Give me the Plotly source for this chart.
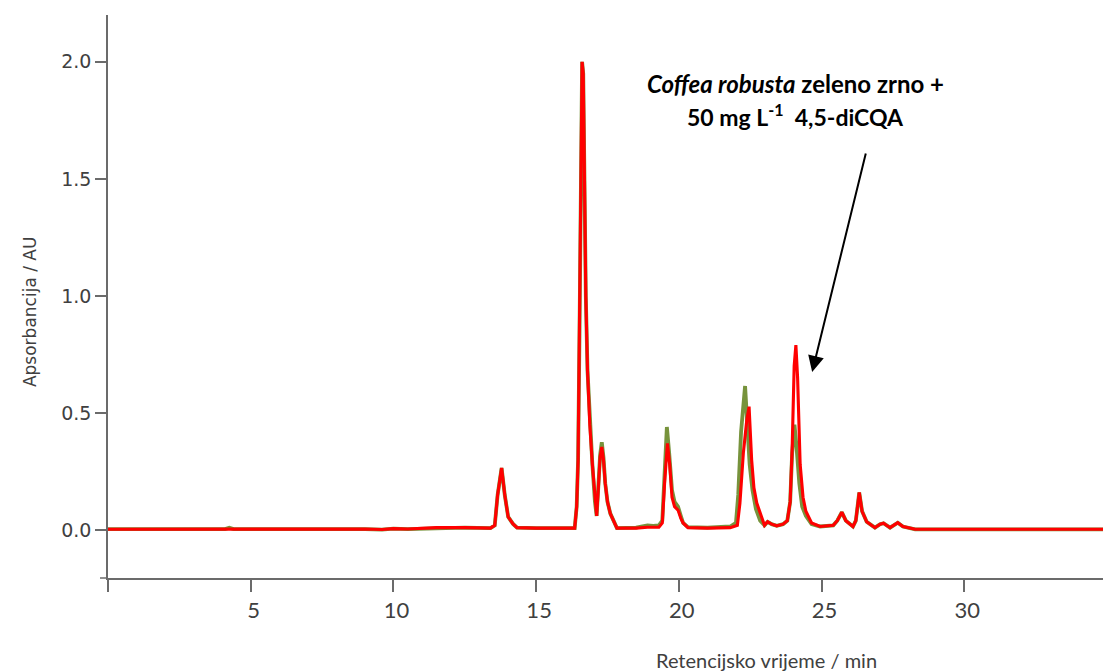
import plotly.graph_objects as go

# Retention time (min) and absorbance (AU)
t_red = [0.0, 4.2, 7.8, 8.5, 9.0, 9.6, 10.0, 10.5, 11.0, 11.5, 12.5, 13.4,
         13.55, 13.65, 13.79, 13.9, 14.02, 14.19, 14.33, 15.0, 16.35,
         16.42, 16.47, 16.52, 16.57, 16.61, 16.65, 16.69, 16.74, 16.80, 16.88,
         16.97, 17.06, 17.12, 17.18, 17.24, 17.30, 17.36, 17.42, 17.50, 17.60,
         17.70, 17.83, 18.5, 18.9, 19.3, 19.42, 19.50, 19.60, 19.68, 19.76,
         19.85, 19.97, 20.07, 20.15, 20.32, 21.0, 21.8, 22.05, 22.14, 22.26,
         22.38, 22.46, 22.55, 22.63, 22.73, 22.90, 23.0, 23.11, 23.25, 23.43,
         23.65, 23.80, 23.90, 23.97, 24.04, 24.10, 24.16, 24.25, 24.35, 24.45,
         24.65, 24.95, 25.41, 25.55, 25.71, 25.85, 26.10, 26.20, 26.32, 26.42,
         26.58, 26.75, 26.87, 27.05, 27.17, 27.40, 27.55, 27.67, 27.85, 28.28,
         35.0]
a_red = [0.003, 0.003, 0.004, 0.006, 0.004, 0.002, 0.006, 0.004, 0.006, 0.010, 0.010, 0.008,
         0.02, 0.15, 0.265, 0.15, 0.056, 0.026, 0.010, 0.008, 0.008,
         0.10, 0.30, 0.85, 1.60, 2.00, 1.95, 1.50, 1.00, 0.68, 0.45,
         0.28, 0.12, 0.06, 0.18, 0.31, 0.355, 0.30, 0.20, 0.12, 0.07,
         0.04, 0.008, 0.008, 0.012, 0.012, 0.03, 0.20, 0.37, 0.28, 0.14,
         0.10, 0.085, 0.05, 0.03, 0.010, 0.008, 0.010, 0.02, 0.115, 0.33,
         0.47, 0.527, 0.30, 0.18, 0.115, 0.05, 0.02, 0.035, 0.025, 0.018,
         0.025, 0.04, 0.12, 0.35, 0.70, 0.79, 0.65, 0.28, 0.14, 0.08,
         0.03, 0.015, 0.02, 0.04, 0.076, 0.04, 0.015, 0.04, 0.16, 0.08,
         0.035, 0.02, 0.010, 0.025, 0.029, 0.010, 0.02, 0.031, 0.015, 0.003,
         0.003]

t_green = [0.0, 4.1, 4.25, 4.4, 7.8, 8.5, 9.0, 9.6, 10.0, 10.5, 11.0, 11.5, 12.5, 13.4,
           13.55, 13.65, 13.79, 13.9, 14.02, 14.19, 14.33, 15.0, 16.35,
           16.42, 16.47, 16.52, 16.57, 16.61, 16.65, 16.69, 16.74, 16.80, 16.88,
           16.97, 17.06, 17.12, 17.18, 17.24, 17.30, 17.36, 17.42, 17.50, 17.60,
           17.70, 17.83, 18.5, 18.7, 18.9, 19.1, 19.3, 19.42, 19.50, 19.58, 19.66,
           19.76, 19.85, 19.97, 20.07, 20.15, 20.32, 20.8, 21.0, 21.8, 22.0, 22.08,
           22.18, 22.32, 22.40, 22.48, 22.58, 22.70, 22.85, 23.0, 23.11, 23.25,
           23.43, 23.65, 23.80, 23.90, 23.97, 24.05, 24.12, 24.22, 24.32, 24.45,
           24.65, 24.95, 25.41, 25.55, 25.71, 25.85, 26.10, 26.20, 26.32, 26.42,
           26.58, 26.75, 26.87, 27.05, 27.17, 27.40, 27.55, 27.67, 27.85, 28.28,
           35.0]
a_green = [0.004, 0.004, 0.010, 0.004, 0.004, 0.006, 0.004, 0.002, 0.006, 0.004, 0.006, 0.010, 0.010, 0.008,
           0.02, 0.15, 0.265, 0.15, 0.056, 0.026, 0.010, 0.008, 0.008,
           0.10, 0.30, 0.85, 1.60, 2.00, 1.95, 1.50, 1.00, 0.68, 0.45,
           0.28, 0.12, 0.06, 0.19, 0.32, 0.375, 0.31, 0.20, 0.12, 0.07,
           0.04, 0.008, 0.010, 0.015, 0.020, 0.018, 0.020, 0.04, 0.25, 0.44, 0.33,
           0.17, 0.12, 0.10, 0.06, 0.03, 0.012, 0.012, 0.010, 0.015, 0.03, 0.15,
           0.42, 0.615, 0.42, 0.28, 0.17, 0.09, 0.04, 0.02, 0.035, 0.025,
           0.018, 0.025, 0.04, 0.12, 0.33, 0.45, 0.36, 0.20, 0.10, 0.06,
           0.025, 0.015, 0.02, 0.04, 0.076, 0.04, 0.015, 0.04, 0.16, 0.08,
           0.035, 0.02, 0.010, 0.025, 0.029, 0.010, 0.02, 0.031, 0.015, 0.003,
           0.003]

x_ticks = [5, 10, 15, 20, 25, 30]
x_end_ticks = [0, 35]
y_ticks = [0.0, 0.5, 1.0, 1.5, 2.0]

axis_col = "#6b6b6b"
label_col = "#404040"

fig = go.Figure()
fig.add_trace(go.Scatter(x=t_green, y=a_green, mode="lines",
                         line=dict(color="#77933C", width=3.8), hoverinfo="skip"))
fig.add_trace(go.Scatter(x=t_red, y=a_red, mode="lines",
                         line=dict(color="#FF0000", width=3.1), hoverinfo="skip"))

# the page body adds 8px on the left and top, so the figure is 8px smaller
fig.update_layout(
    width=1103, height=664,
    margin=dict(l=100, r=4, t=7, b=94),
    paper_bgcolor="white", plot_bgcolor="white",
    showlegend=False,
    xaxis=dict(range=[0, 35], tickvals=x_ticks,
               showgrid=False, zeroline=False, showline=True,
               linecolor=axis_col, linewidth=1.5,
               ticks="outside", ticklen=12, tickwidth=1.5, tickcolor=axis_col,
               ticklabelshift=3,
               minor=dict(tickvals=x_end_ticks, ticks="outside", ticklen=12,
                          tickwidth=1.5, tickcolor=axis_col, showgrid=False),
               tickfont=dict(family="Lato", size=22, color=label_col)),
    yaxis=dict(range=[-0.205, 2.2], tickvals=y_ticks, tickformat=".1f",
               showgrid=False, zeroline=False, showline=True,
               linecolor=axis_col, linewidth=1.5,
               ticks="outside", ticklen=11, tickwidth=1.5, tickcolor=axis_col,
               tickfont=dict(family="DejaVu Sans", size=19, color=label_col)),
)

# axis cross at the lower left corner
fig.add_shape(type="line", xref="paper", yref="paper", x0=0, x1=0, y0=0, y1=-0.021,
              line=dict(color=axis_col, width=1.5))
fig.add_shape(type="line", xref="paper", yref="paper", x0=-0.008, x1=0, y0=0, y1=0,
              line=dict(color=axis_col, width=1.5))

# axis titles
fig.add_annotation(text="Apsorbancija / AU", xref="paper", yref="paper",
                   x=-0.078, y=0.4725, textangle=-90, showarrow=False,
                   xanchor="center", yanchor="middle",
                   font=dict(family="DejaVu Sans", size=17, color=label_col))
fig.add_annotation(text="Retencijsko vrijeme / min", xref="paper", yref="paper",
                   x=0.659, y=-0.1456, showarrow=False,
                   xanchor="center", yanchor="middle",
                   font=dict(family="Lato", size=20, color=label_col))

# sample label and arrow
fig.add_annotation(text="<i>Coffea robusta</i> zeleno zrno +", x=24.07, y=1.906,
                   showarrow=False, xanchor="center", yanchor="middle",
                   font=dict(family="Lato", size=24, color="black", weight="bold"))
fig.add_annotation(text="50 mg L<sup>-1</sup>\u00a0\u00a04,5-diCQA", x=24.07, y=1.769,
                   showarrow=False, xanchor="center", yanchor="middle",
                   font=dict(family="Lato", size=23, color="black", weight="bold"))
fig.add_annotation(text="", x=24.67, y=0.675, ax=54, ay=-220,
                   showarrow=True, arrowhead=2, arrowsize=1.6, arrowwidth=2,
                   arrowcolor="black")

fig.write_html("out.html")
